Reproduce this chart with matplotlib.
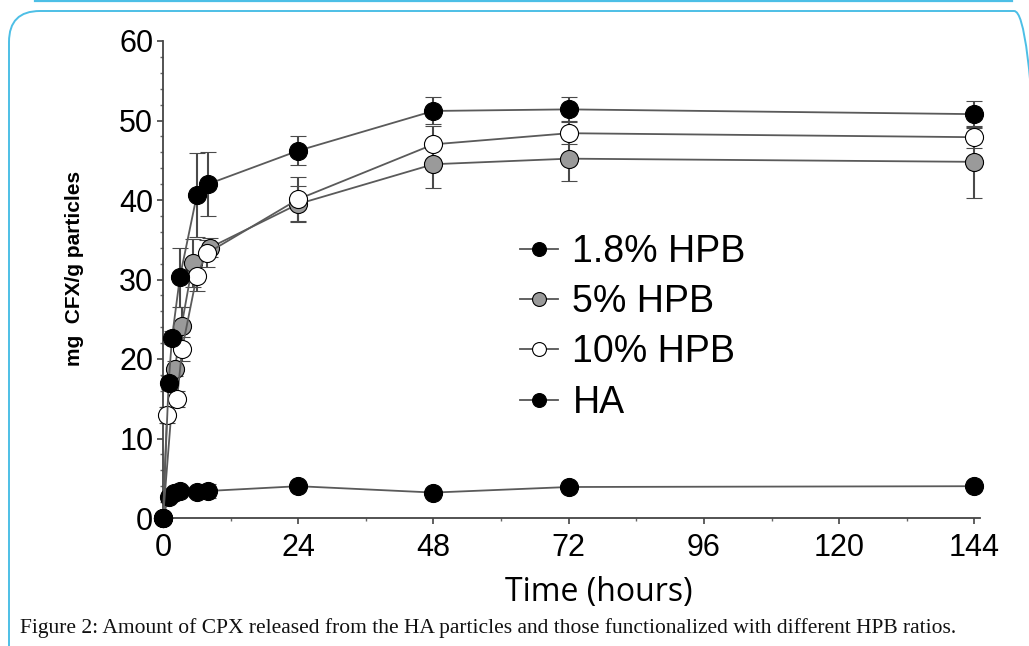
import matplotlib
matplotlib.use("Agg")
import matplotlib.pyplot as plt
from matplotlib.patches import FancyBboxPatch
from matplotlib.lines import Line2D
from matplotlib.ticker import MultipleLocator

# ---------------- data ----------------
t_18 = [0, 1, 1.6, 3, 6, 8, 24, 48, 72, 144]
y_18 = [0, 17.0, 22.7, 30.3, 40.6, 42.0, 46.2, 51.2, 51.4, 50.8]
e_18 = [0, 0.8, 0.8, 3.7, 5.3, 4.0, 1.8, 1.7, 1.5, 1.7]

t_5 = [0, 2.1, 3.3, 5.3, 8.3, 24, 48, 72, 144]
y_5 = [0, 18.8, 24.2, 32.1, 34.0, 39.5, 44.5, 45.2, 44.8]
e_5 = [0, 1.0, 2.4, 3.0, 1.2, 2.3, 3.0, 2.8, 4.5]

t_10 = [0, 0.7, 2.5, 3.4, 6, 7.8, 24, 48, 72, 144]
y_10 = [0, 12.9, 15.0, 21.3, 30.5, 33.3, 40.1, 47.0, 48.4, 47.9]
e_10 = [0, 1.0, 1.0, 1.5, 2.0, 1.7, 2.8, 2.3, 1.4, 1.3]

t_ha = [0, 1, 2, 3, 6, 8, 24, 48, 72, 144]
y_ha = [0, 2.7, 3.2, 3.4, 3.3, 3.4, 4.0, 3.2, 3.9, 4.0]
e_ha = [0, 0.5, 0.5, 0.5, 0.6, 0.9, 0.4, 0.3, 0.3, 0.3]

labels = ["1.8% HPB", "5% HPB", "10% HPB", "HA"]
face_colors = ["black", "#9a9a9a", "white", "black"]
x_ticks = [0, 24, 48, 72, 96, 120, 144]
y_ticks = [0, 10, 20, 30, 40, 50, 60]
caption = ("Figure 2: Amount of CPX released from the HA particles and those "
           "functionalized with different HPB ratios.")

# ---------------- figure ----------------
W, H = 1029, 646
fig = plt.figure(figsize=(W / 100, H / 100), dpi=100)

# decorative frame
frame = FancyBboxPatch((9 / W, -0.2), (1045 - 9) / W, (H - 11) / H + 0.2,
                       boxstyle="round,pad=0,rounding_size=0.03",
                       transform=fig.transFigure, fill=False,
                       edgecolor="#4dbfe6", linewidth=1.4,
                       mutation_aspect=W / H, clip_on=False)
fig.patches.append(frame)
fig.add_artist(Line2D([35 / W, 1012 / W], [1 - 0.8 / H, 1 - 0.8 / H],
                      transform=fig.transFigure, color="#4dbfe6", lw=1.6))

ax = fig.add_axes([163 / W, (H - 518) / H, (980 - 163) / W, (518 - 41) / H])
ax.set_xlim(0, 145)
ax.set_ylim(0, 60)

series = [
    (t_ha, y_ha, e_ha, face_colors[3]),
    (t_5, y_5, e_5, face_colors[1]),
    (t_10, y_10, e_10, face_colors[2]),
    (t_18, y_18, e_18, face_colors[0]),
]
for t, y, e, fc in series:
    ax.errorbar(t, y, yerr=e, color="#5a5a5a", lw=1.3, elinewidth=1.5,
                capsize=6, capthick=1.5, ecolor="#4a4a4a",
                marker="o", markersize=13, markerfacecolor=fc,
                markeredgecolor="black", markeredgewidth=0.8,
                clip_on=False, zorder=3)

for s in ["top", "right"]:
    ax.spines[s].set_visible(False)
for s in ["left", "bottom"]:
    ax.spines[s].set_color("#444444")
    ax.spines[s].set_linewidth(1.3)

ax.set_xticks(x_ticks)
ax.set_yticks(y_ticks)
ax.xaxis.set_minor_locator(MultipleLocator(12))
ax.yaxis.set_minor_locator(MultipleLocator(2))
ax.tick_params(axis="both", which="major", direction="out", length=4,
               width=1.2, color="#444444", labelsize=22,
               labelfontfamily="Liberation Sans")
ax.tick_params(axis="x", which="major", pad=7)
ax.tick_params(axis="y", which="major", pad=3)
ax.tick_params(axis="both", which="minor", direction="out", length=2,
               width=1.0, color="#666666")

ax.set_xlabel("Time (hours)", fontsize=23, family="Open Sans")
ax.xaxis.set_label_coords((599 - 163) / 817, -(592 - 518) / 477 - 0.0)
ax.xaxis.label.set_va("center")
ax.set_ylabel("mg  CFX/g particles", fontsize=15, family="Liberation Sans",
              fontweight="bold")
ax.yaxis.set_label_coords(-(163 - 75) / 817, (518 - 268) / 477)
ax.yaxis.label.set_va("center")

handles = [Line2D([], [], color="#555555", lw=1.3, marker="o", markersize=10,
                  markerfacecolor=fc, markeredgecolor="black",
                  markeredgewidth=0.8) for fc in face_colors]
leg = ax.legend(handles, labels, loc="upper left",
                bbox_to_anchor=(520 / W, 1 - 234 / H),
                bbox_transform=fig.transFigure, frameon=False,
                prop={"family": "Liberation Sans", "size": 27},
                handlelength=1.0, handletextpad=0.4, labelspacing=0.38,
                borderpad=0, borderaxespad=0)

fig.text(20 / W, 1 - 628 / H, caption, family="Liberation Serif",
         fontsize=15.5, va="center", ha="left", color="#111111")

fig.savefig("out.png", dpi=100)
